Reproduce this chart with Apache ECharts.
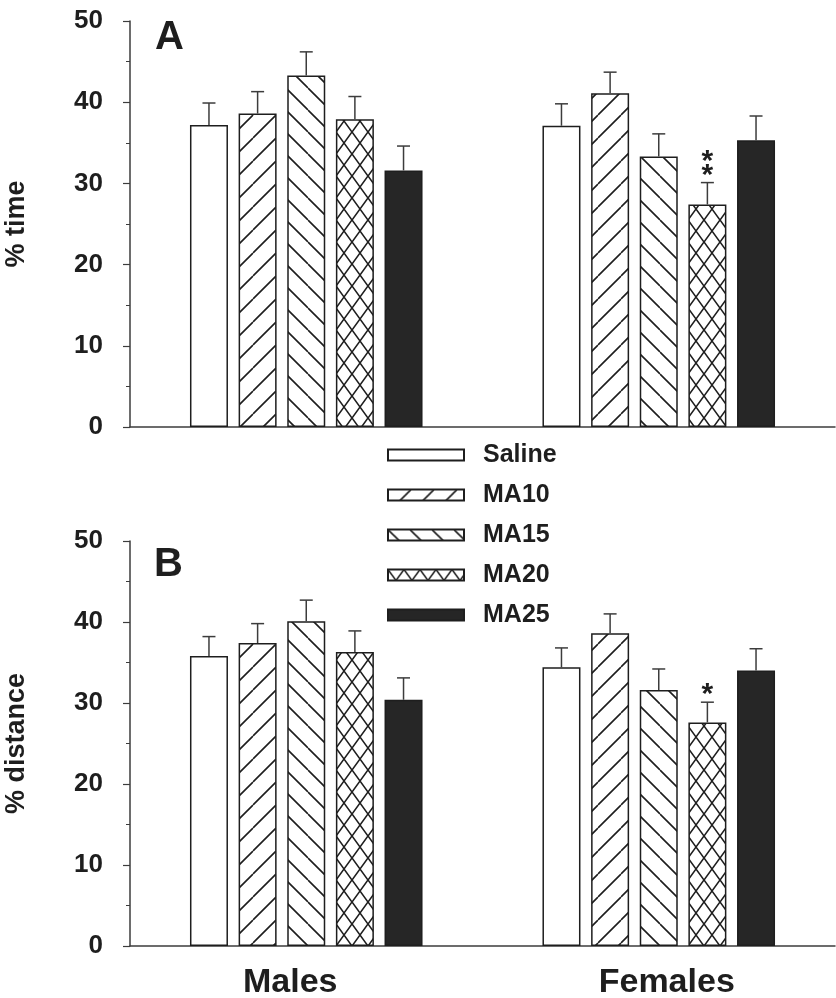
<!DOCTYPE html>
<html>
<head>
<meta charset="utf-8">
<script src="https://cdn.jsdelivr.net/npm/echarts@6/dist/echarts.min.js"></script>
<style>
html,body{margin:0;padding:0;background:#fff;}
#chart{width:836px;height:998px;}
</style>
</head>
<body>
<div id="chart"></div>
<script>
// ---- data ----
const categories = ['Males', 'Females'];
const treatments = ['Saline', 'MA10', 'MA15', 'MA20', 'MA25'];
const yTicks = [0, 10, 20, 30, 40, 50];

const timeMales = [37.2, 38.6, 43.3, 37.9, 31.6];
const timeMalesSE = [2.7, 2.7, 2.9, 2.8, 3.0];
const timeFemales = [37.1, 41.1, 33.3, 27.4, 35.3];
const timeFemalesSE = [2.7, 2.6, 2.8, 2.7, 3.0];
const timeFemalesSig = ['', '', '', '**', ''];

const distMales = [35.8, 37.4, 40.1, 36.3, 30.4];
const distMalesSE = [2.4, 2.4, 2.6, 2.6, 2.7];
const distFemales = [34.4, 38.6, 31.6, 27.6, 34.0];
const distFemalesSE = [2.4, 2.4, 2.6, 2.5, 2.7];
const distFemalesSig = ['', '', '', '*', ''];

// ---- styling ----
const FONT = '"Liberation Sans", Arial, Helvetica, sans-serif';
const INK = '#1e1e1e';
const AXIS = '#3c3c3c';
const BAR_W = 38;
const GAP = 0.28;

function makePattern(kind) {
  const c = document.createElement('canvas');
  let w, h;
  if (kind === 'fwd') { w = 23; h = 23; }
  else if (kind === 'back') { w = 22; h = 22; }
  else { w = 16; h = 22; }
  c.width = w; c.height = h;
  const g = c.getContext('2d');
  g.fillStyle = '#fff';
  g.fillRect(0, 0, w, h);
  g.strokeStyle = INK;
  g.lineWidth = 1.6;
  g.beginPath();
  const shifts = [-w, 0, w];
  if (kind === 'fwd' || kind === 'cross') {
    shifts.forEach(s => { g.moveTo(s, h); g.lineTo(s + w, 0); });
  }
  if (kind === 'back' || kind === 'cross') {
    shifts.forEach(s => { g.moveTo(s, 0); g.lineTo(s + w, h); });
  }
  g.stroke();
  return { image: c, repeat: 'repeat' };
}

const fills = [
  '#ffffff',
  makePattern('fwd'),
  makePattern('back'),
  makePattern('cross'),
  '#262626'
];

function barSeries(name, idx, values, gridIdx) {
  return {
    type: 'bar',
    name: name,
    xAxisIndex: gridIdx,
    yAxisIndex: gridIdx,
    barWidth: BAR_W,
    barGap: (GAP * 100) + '%',
    data: values,
    itemStyle: { color: fills[idx], borderColor: INK, borderWidth: 1.5 },
    emphasis: { disabled: true },
    z: 2
  };
}

function errSeries(gridIdx, maleVals, maleSE, femVals, femSE, femSig) {
  const data = [];
  const sigs = [];
  treatments.forEach((t, i) => {
    data.push([0, i, maleVals[i], maleSE[i]]);
    sigs.push('');
  });
  treatments.forEach((t, i) => {
    data.push([1, i, femVals[i], femSE[i]]);
    sigs.push(femSig[i]);
  });
  return {
    type: 'custom',
    xAxisIndex: gridIdx,
    yAxisIndex: gridIdx,
    silent: true,
    z: 3,
    encode: { x: 0, y: 2 },
    data: data,
    renderItem: function (params, api) {
      const cat = api.value(0), ti = api.value(1), m = api.value(2), se = api.value(3);
      const p0 = api.coord([cat, m]);
      const p1 = api.coord([cat, m + se]);
      const x = p0[0] + (ti - 2) * (BAR_W * (1 + GAP));
      const style = { stroke: AXIS, lineWidth: 1.5 };
      const children = [
        { type: 'line', shape: { x1: x, y1: p0[1], x2: x, y2: p1[1] }, style: style },
        { type: 'line', shape: { x1: x - 6.5, y1: p1[1], x2: x + 6.5, y2: p1[1] }, style: style }
      ];
      const s = sigs[params.dataIndex];
      for (let k = 0; k < s.length; k++) {
        children.push({
          type: 'text',
          style: {
            text: s[k], x: x, y: p1[1] + 8 - k * 13.5,
            align: 'center', verticalAlign: 'bottom',
            font: 'bold 30px ' + FONT, fill: INK
          }
        });
      }
      return { type: 'group', children: children };
    }
  };
}

const yAxisBase = (name, gridIdx) => ({
  type: 'value',
  gridIndex: gridIdx,
  min: 0, max: 50, interval: 10,
  name: name,
  nameLocation: 'middle',
  nameGap: 100,
  nameTextStyle: { fontFamily: FONT, fontWeight: 'bold', fontSize: 27, color: INK },
  axisLine: { show: true, lineStyle: { color: AXIS, width: 1.5 } },
  axisTick: { show: true, inside: false, length: 7, lineStyle: { color: AXIS, width: 1.2 } },
  minorTick: { show: true, splitNumber: 2, length: 4, lineStyle: { color: AXIS, width: 1 } },
  splitLine: { show: false },
  axisLabel: {
    margin: 27, fontFamily: FONT, fontWeight: 'bold', fontSize: 26, color: INK,
    formatter: v => (yTicks.indexOf(v) >= 0 ? String(v) : '')
  }
});

const xAxisBase = (gridIdx, showLabels) => ({
  type: 'category',
  gridIndex: gridIdx,
  data: categories,
  axisLine: { show: true, lineStyle: { color: AXIS, width: 1.5 } },
  axisTick: { show: false },
  axisLabel: {
    show: showLabels,
    margin: 20,
    formatter: v => (v === 'Males' ? '{m|' + v + '}' : '{f|' + v + '}'),
    rich: {
      m: { fontFamily: FONT, fontWeight: 'bold', fontSize: 34, color: INK, padding: [0, 32, 0, 0] },
      f: { fontFamily: FONT, fontWeight: 'bold', fontSize: 34, color: INK, padding: [0, 0, 0, 16] }
    }
  }
});

const series = [];
treatments.forEach((t, i) => {
  series.push(barSeries(t, i, [timeMales[i], timeFemales[i]], 0));
});
treatments.forEach((t, i) => {
  series.push(barSeries(t, i, [distMales[i], distFemales[i]], 1));
});
series.push(errSeries(0, timeMales, timeMalesSE, timeFemales, timeFemalesSE, timeFemalesSig));
series.push(errSeries(1, distMales, distMalesSE, distFemales, distFemalesSE, distFemalesSig));

const chart = echarts.init(document.getElementById('chart'), null, { renderer: 'canvas' });
chart.setOption({
  animation: false,
  backgroundColor: '#ffffff',
  grid: [
    { left: 130, right: 1, top: 21, height: 406, containLabel: false, outerBoundsMode: 'none' },
    { left: 130, right: 1, top: 541, height: 405, containLabel: false, outerBoundsMode: 'none' }
  ],
  xAxis: [xAxisBase(0, false), xAxisBase(1, true)],
  yAxis: [yAxisBase('% time', 0), yAxisBase('% distance', 1)],
  legend: {
    data: treatments,
    orient: 'vertical',
    left: 382,
    top: 437,
    itemWidth: 76,
    itemHeight: 11,
    itemGap: 14,
    selectedMode: false,
    icon: 'rect',
    textStyle: {
      fontFamily: FONT, fontWeight: 'bold', fontSize: 25, color: INK,
      lineHeight: 26, padding: [0, 0, 0, 14]
    }
  },
  graphic: [
    { type: 'text', left: 155, top: 18, style: { text: 'A', font: 'bold 40px ' + FONT, fill: INK } },
    { type: 'text', left: 154, top: 545, style: { text: 'B', font: 'bold 40px ' + FONT, fill: INK } }
  ],
  series: series
});
</script>
</body>
</html>
